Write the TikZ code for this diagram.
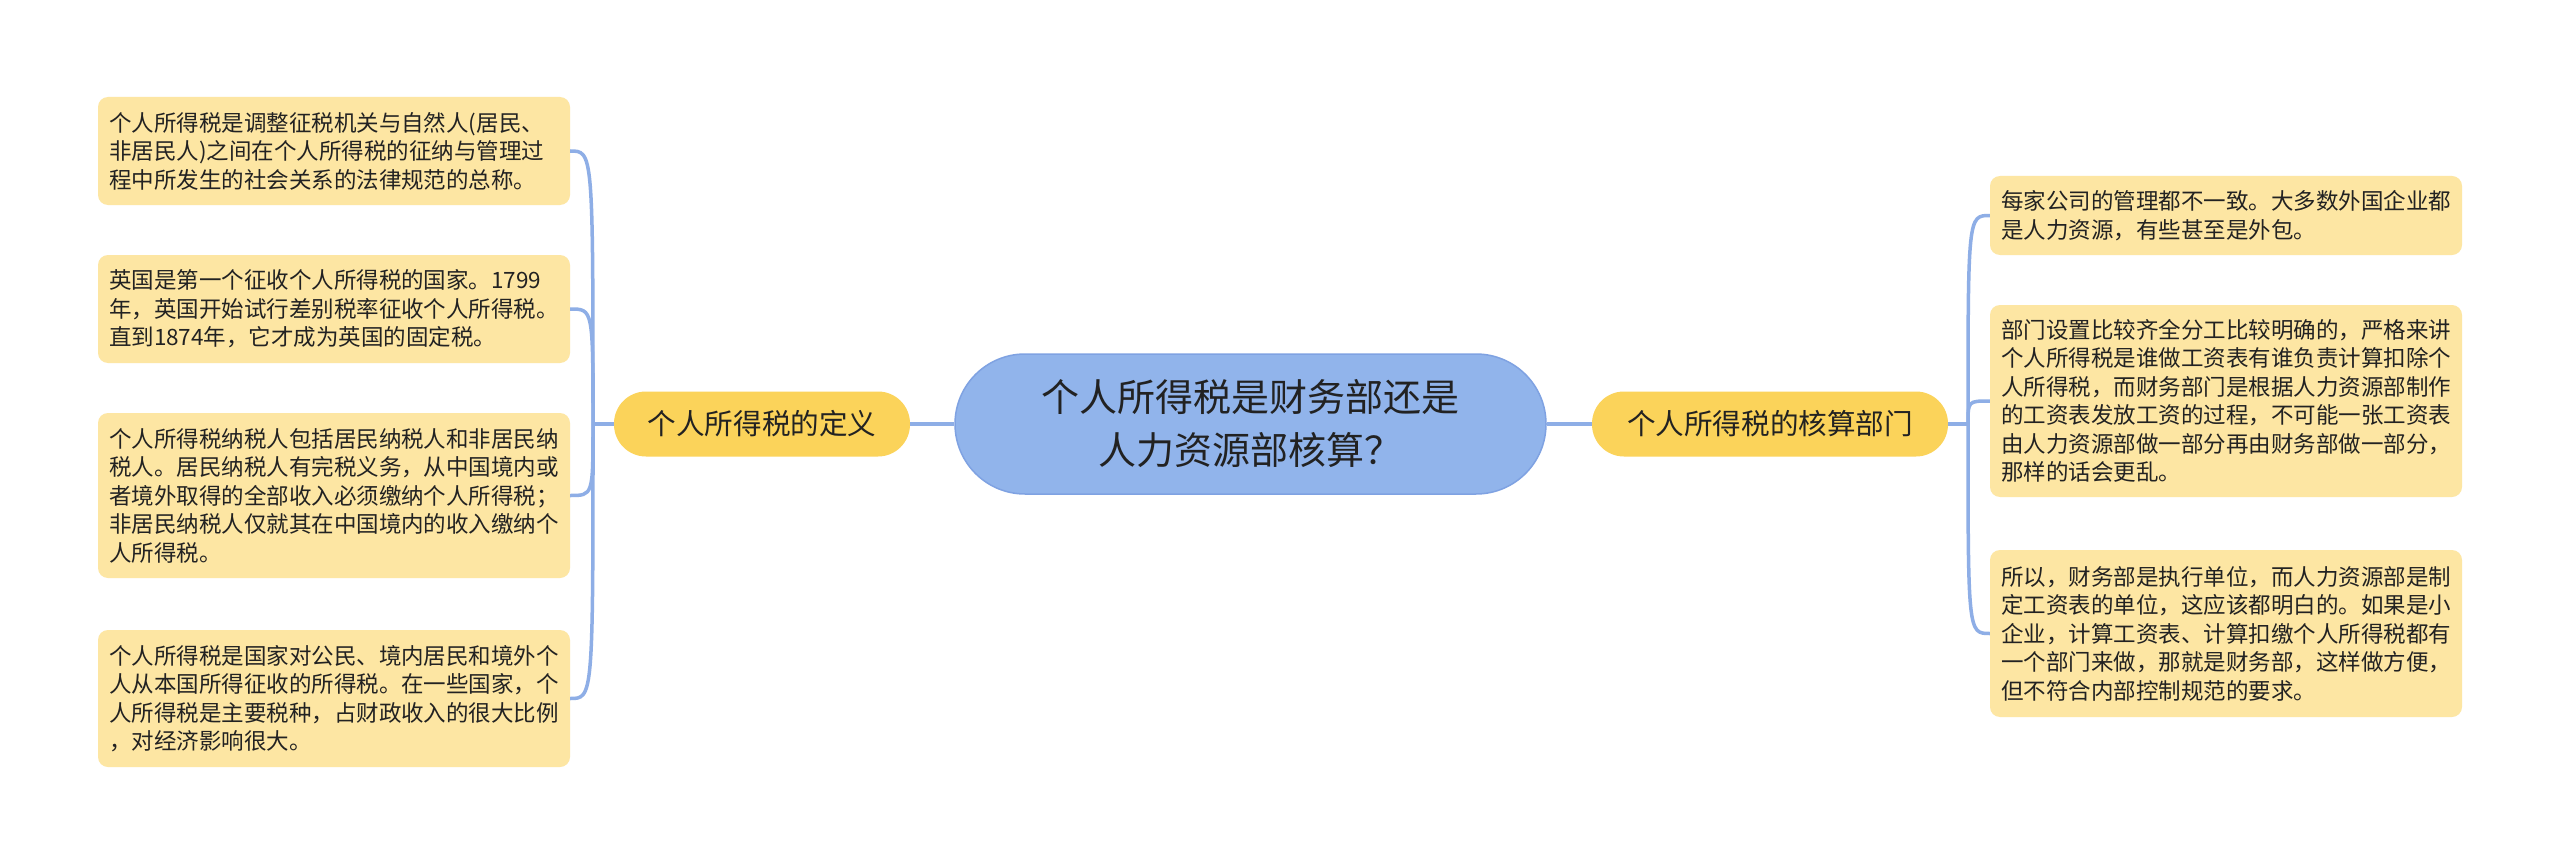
\documentclass[tikz,border=0pt]{standalone}
\usepackage{fontspec}
\newfontfamily\cjk{Noto Sans CJK SC}
\usepackage{tikz}
\definecolor{linkblue}{HTML}{8EAEE6}
\definecolor{rootblue}{HTML}{91B4EB}
\definecolor{rootedge}{HTML}{7FA2E2}
\definecolor{branchyellow}{HTML}{FBD35A}
\definecolor{leafyellow}{HTML}{FDE6A3}
\definecolor{inkgray}{HTML}{222222}

\begin{document}
\begin{tikzpicture}[x=1pt,y=-1pt]
      \tikzstyle{every node}=[font=\cjk,text=inkgray]
      \tikzstyle{root}=[draw=rootedge,line width=1.5pt,fill=rootblue,rounded corners=70pt,minimum width=591pt,minimum height=140pt,align=center,font=\cjk\fontsize{38}{53}\selectfont]
      \tikzstyle{branch}=[fill=branchyellow,rounded corners=32pt,minimum height=65pt,font=\cjk\fontsize{28.6}{34}\selectfont]
      \tikzstyle{leaf}=[fill=leafyellow,rounded corners=10pt,text width=450pt,inner xsep=11pt,inner ysep=0pt,align=left,font=\cjk\fontsize{22.5}{28.5}\selectfont]
      \tikzstyle{link}=[draw=linkblue,line width=3.5pt]

      \fill[white] (0,0) rectangle (2560,864);

      \node[root] (root) at (1250.5,424) {个人所得税是财务部还是\\人力资源部核算？};

      \node[branch,minimum width=296pt] (def) at (762,424) {个人所得税的定义};
      \node[branch,minimum width=356pt] (dept) at (1770,424) {个人所得税的核算部门};

      \node[leaf,minimum height=108pt] (l1) at (334,151) {个人所得税是调整征税机关与自然人(居民、\\非居民人)之间在个人所得税的征纳与管理过\\程中所发生的社会关系的法律规范的总称。};
      \node[leaf,minimum height=108pt] (l2) at (334,309) {英国是第一个征收个人所得税的国家。1799\\年，英国开始试行差别税率征收个人所得税。\\直到1874年，它才成为英国的固定税。};
      \node[leaf,minimum height=165pt] (l3) at (334,495.5) {个人所得税纳税人包括居民纳税人和非居民纳\\税人。居民纳税人有完税义务，从中国境内或\\者境外取得的全部收入必须缴纳个人所得税；\\非居民纳税人仅就其在中国境内的收入缴纳个\\人所得税。};
      \node[leaf,minimum height=137pt] (l4) at (334,698.5) {个人所得税是国家对公民、境内居民和境外个\\人从本国所得征收的所得税。在一些国家，个\\人所得税是主要税种，占财政收入的很大比例\\，对经济影响很大。};

      \node[leaf,minimum height=79pt] (r1) at (2226,215.5) {每家公司的管理都不一致。大多数外国企业都\\是人力资源，有些甚至是外包。};
      \node[leaf,minimum height=192pt] (r2) at (2226,401) {部门设置比较齐全分工比较明确的，严格来讲\\个人所得税是谁做工资表有谁负责计算扣除个\\人所得税，而财务部门是根据人力资源部制作\\的工资表发放工资的过程，不可能一张工资表\\由人力资源部做一部分再由财务部做一部分，\\那样的话会更乱。};
      \node[leaf,minimum height=167pt] (r3) at (2226,633.5) {所以，财务部是执行单位，而人力资源部是制\\定工资表的单位，这应该都明白的。如果是小\\企业，计算工资表、计算扣缴个人所得税都有\\一个部门来做，那就是财务部，这样做方便，\\但不符合内部控制规范的要求。};

      \coordinate (defhub) at (593,424);
      \coordinate (depthub) at (1968,424);

      \draw[link] (root.west) -- (def.east);
      \draw[link] (root.east) -- (dept.west);

      \draw[link] (def.west) -- (defhub);
      \draw[link] (defhub) .. controls (defhub |- l1.east) .. (l1.east);
      \draw[link] (defhub) .. controls (defhub |- l2.east) .. (l2.east);
      \draw[link] (defhub) .. controls (defhub |- l3.east) .. (l3.east);
      \draw[link] (defhub) .. controls (defhub |- l4.east) .. (l4.east);

      \draw[link] (dept.east) -- (depthub);
      \draw[link] (depthub) .. controls (depthub |- r1.west) .. (r1.west);
      \draw[link] (depthub) .. controls (depthub |- r2.west) .. (r2.west);
      \draw[link] (depthub) .. controls (depthub |- r3.west) .. (r3.west);

    \end{tikzpicture}
\end{document}
